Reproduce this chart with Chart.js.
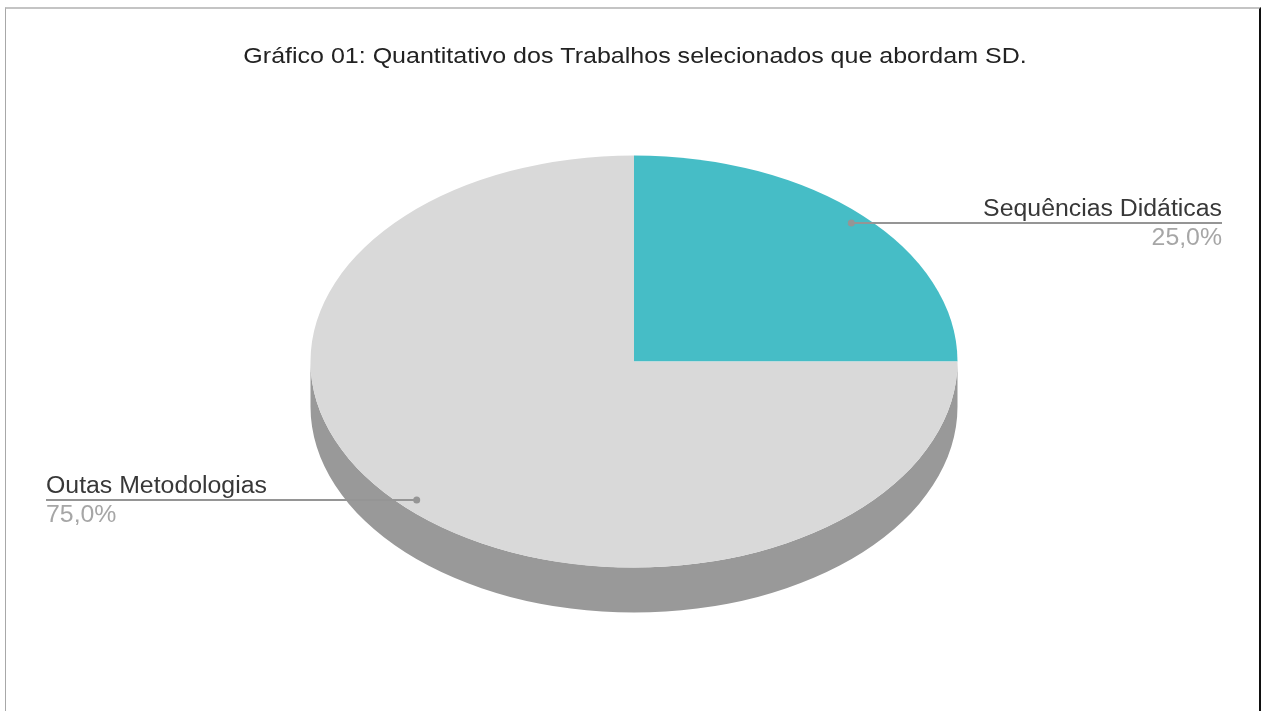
<!DOCTYPE html>
<html>
<head>
<meta charset="utf-8">
<script src="https://cdn.jsdelivr.net/npm/chart.js@4.4.1/dist/chart.umd.min.js"></script>
<style>
  body { margin: 0; background: #fff; }
  #frame {
    position: absolute; left: 5px; top: 7px; width: 1253px; height: 710px;
    border-left: 1px solid #a8a8a8; border-top: 2px solid #c4c4c4; border-right: 2px solid #111;
  }
  #chart { position: absolute; left: 0; top: 0; }
</style>
</head>
<body>
<div id="frame"></div>
<canvas id="chart" width="1264" height="711"></canvas>
<script>
const titleText = 'Gráfico 01: Quantitativo dos Trabalhos selecionados que abordam SD.';
const categories = ['Sequências Didáticas', 'Outas Metodologias'];
const counts = [25, 75];
const topColors = ['#46bdc6', '#d9d9d9'];
const sideColors = ['#35959c', '#999999'];

const tilt = 0.637;   // vertical squash of the pie
const depth = 45;     // thickness of the 3d side, px

function pctLabel(v) {
    const total = counts.reduce((a, b) => a + b, 0);
    return (v / total * 100).toFixed(1).replace('.', ',') + '%';
}

function stretchedText(ctx, text, x, y, align, sx) {
    ctx.save();
    ctx.translate(x, y);
    ctx.scale(sx, 1);
    ctx.textAlign = align;
    ctx.fillText(text, 0, 0);
    ctx.restore();
}

const pie3d = {
    id: 'pie3d',
    beforeDatasetsDraw(chart) {
        const ctx = chart.ctx;
        const arcs = chart.getDatasetMeta(0).data;
        const cx = arcs[0].x, cy = arcs[0].y, r = arcs[0].outerRadius;
        ctx.save();
        // side walls, only the front half is visible
        arcs.forEach((arc, i) => {
            const a = Math.max(arc.startAngle, 0);
            const b = Math.min(arc.endAngle, Math.PI);
            if (a >= b) return;
            ctx.beginPath();
            ctx.ellipse(cx, cy + depth, r, r * tilt, 0, a, b);
            ctx.ellipse(cx, cy, r, r * tilt, 0, b, a, true);
            ctx.closePath();
            ctx.fillStyle = sideColors[i];
            ctx.fill();
        });
        // squash the top face
        ctx.translate(cx, cy);
        ctx.scale(1, tilt);
        ctx.translate(-cx, -cy);
    },
    afterDatasetsDraw(chart) {
        const ctx = chart.ctx;
        ctx.restore();
        const arcs = chart.getDatasetMeta(0).data;
        arcs.forEach((arc, i) => {
            const mid = (arc.startAngle + arc.endAngle) / 2;
            const px = arc.x + Math.cos(mid) * arc.outerRadius * 0.95;
            const py = arc.y + Math.sin(mid) * arc.outerRadius * 0.95 * tilt;
            const right = px > arc.x;
            const endX = right ? 1222 : 46;
            ctx.save();
            ctx.strokeStyle = '#959595';
            ctx.lineWidth = 2;
            ctx.beginPath();
            ctx.moveTo(px, py);
            ctx.lineTo(endX, py);
            ctx.stroke();
            ctx.fillStyle = '#959595';
            ctx.beginPath();
            ctx.arc(px, py, 3.5, 0, Math.PI * 2);
            ctx.fill();
            ctx.font = '23px "Liberation Sans", Arial, sans-serif';
            ctx.textBaseline = 'alphabetic';
            ctx.fillStyle = '#383838';
            stretchedText(ctx, categories[i], endX, py - 7, right ? 'right' : 'left', 1.08);
            ctx.fillStyle = '#a6a6a6';
            stretchedText(ctx, pctLabel(counts[i]), endX, py + 22, right ? 'right' : 'left', 1.08);
            ctx.restore();
        });
    },
    afterDraw(chart) {
        const ctx = chart.ctx;
        ctx.save();
        ctx.font = '22px "Liberation Sans", Arial, sans-serif';
        ctx.fillStyle = '#222222';
        ctx.textBaseline = 'alphabetic';
        stretchedText(ctx, titleText, 635, 63, 'center', 1.137);
        ctx.restore();
    }
};

new Chart(document.getElementById('chart'), {
    type: 'pie',
    data: {
        labels: categories,
        datasets: [{
            data: counts,
            backgroundColor: topColors,
            borderWidth: 0
        }]
    },
    options: {
        responsive: false,
        animation: false,
        events: [],
        layout: {
            padding: { left: 4, right: 0, top: 38, bottom: 26 }
        },
        plugins: {
            legend: { display: false },
            tooltip: { enabled: false },
            title: { display: false }
        }
    },
    plugins: [pie3d]
});
</script>
</body>
</html>
